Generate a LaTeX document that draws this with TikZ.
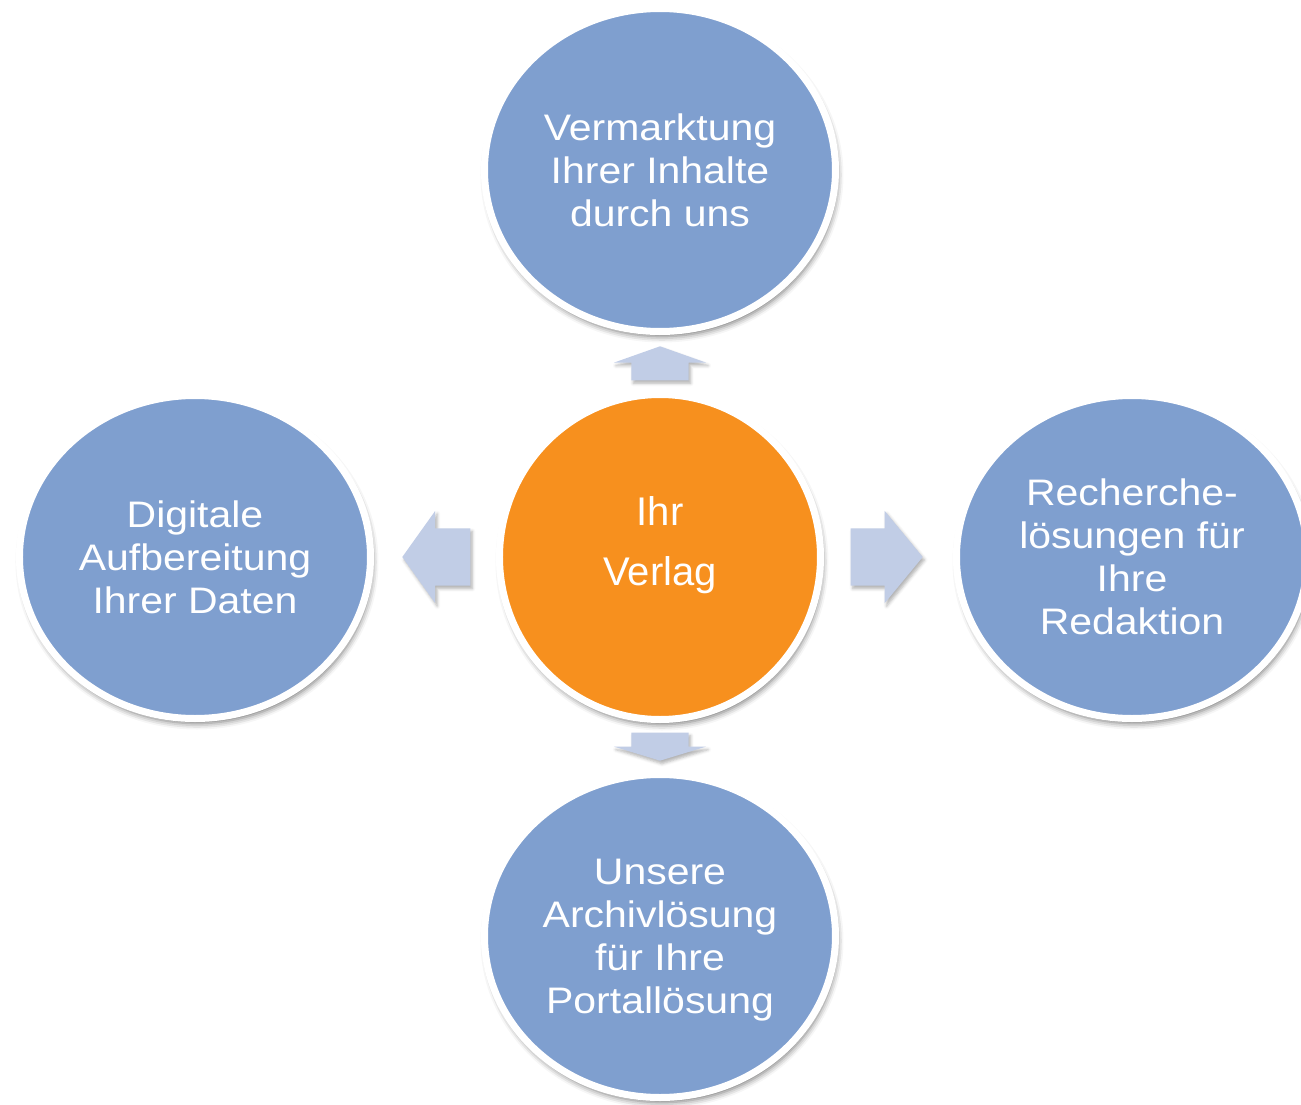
\documentclass[tikz,border=0pt]{standalone}
\usepackage{fontspec}
\setmainfont{Liberation Sans}
\newfontfamily\breitfont[FakeStretch=1.11]{Liberation Sans}
\usetikzlibrary{positioning,shapes.geometric,shapes.arrows,shadows.blur}
\definecolor{kreisblau}{HTML}{7F9FCF}
\definecolor{kreisorange}{HTML}{F7901E}
\definecolor{pfeilblau}{HTML}{C1CDE6}

\begin{document}
\begin{tikzpicture}[
  kreis/.style={ellipse, draw=white, line width=0.07cm, fill=kreisblau, text=white,
    minimum width=3.51cm, minimum height=3.23cm, inner sep=0pt, align=center, text depth=0pt,
    font=\breitfont\fontsize{10.5pt}{12.24pt}\selectfont,
    blur shadow={shadow xshift=0.02cm, shadow yshift=-0.05cm, shadow blur radius=0.06cm, shadow opacity=55}},
  pfeil/.style={single arrow, draw=none, fill=pfeilblau, anchor=tail,
    minimum width=0.91cm, single arrow head extend=0.175cm,
    blur shadow={shadow xshift=0.02cm, shadow yshift=-0.03cm, shadow blur radius=0.03cm, shadow opacity=30}},
  waagrecht/.style={inner xsep=0pt, inner ysep=0.28cm},
  senkrecht/.style={inner xsep=0.28cm, inner ysep=0pt}
]
 \useasboundingbox (-6.60,-5.48) rectangle (6.41,5.57);
 % centre
 \node [kreis, fill=kreisorange, minimum width=3.21cm, minimum height=3.25cm, text depth=0.32cm,
   font=\fontsize{11.38pt}{16.8pt}\selectfont] (verlag) {Ihr\\Verlag};
 % outer circles
 \node [kreis, above=0.56cm of verlag] (vermarktung) {Vermarktung\\Ihrer Inhalte\\durch uns};
 \node [kreis, right=1.29cm of verlag] (recherche) {Recherche-\\lösungen für\\Ihre\\Redaktion};
 \node [kreis, below=0.48cm of verlag] (archiv) {Unsere\\Archivlösung\\für Ihre\\Portallösung};
 \node [kreis, left=1.22cm of verlag] (digital) {Digitale\\Aufbereitung\\Ihrer Daten};
 % arrows
 \node [pfeil, senkrecht, shape border rotate=90, minimum height=0.34cm, single arrow tip angle=141]
   (pfeiloben) at ([yshift=0.10cm]verlag.north) {};
 \node [pfeil, waagrecht, minimum height=0.72cm, single arrow tip angle=101]
   (pfeilrechts) at ([xshift=0.26cm]verlag.east) {};
 \node [pfeil, senkrecht, shape border rotate=270, minimum height=0.28cm, single arrow tip angle=146]
   (pfeilunten) at ([yshift=-0.09cm]verlag.south) {};
 \node [pfeil, waagrecht, shape border rotate=180, minimum height=0.68cm, single arrow tip angle=109]
   (pfeillinks) at ([xshift=-0.25cm]verlag.west) {};
\end{tikzpicture}
\end{document}
